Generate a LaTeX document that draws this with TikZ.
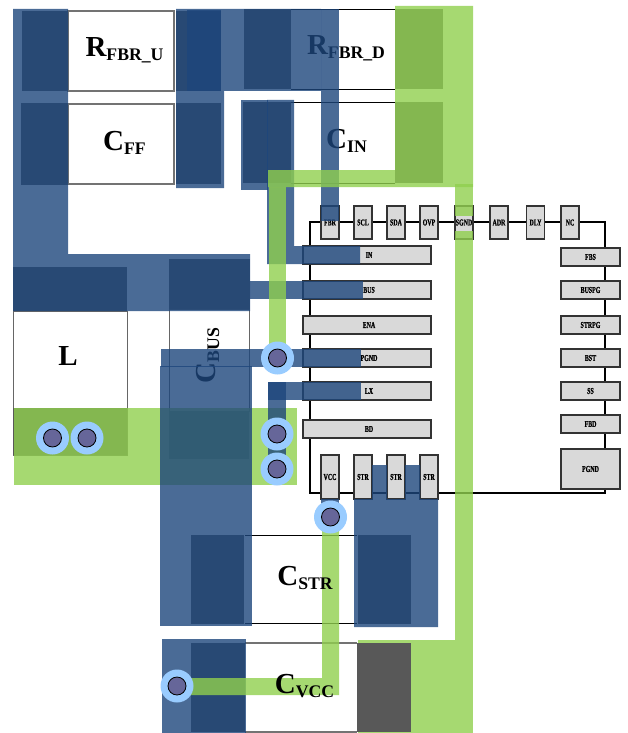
\documentclass[tikz,border=0pt]{standalone}
\usepackage{fontspec}
\setmainfont{Liberation Serif}
\newfontfamily\pinfont[FakeStretch=0.66,FakeBold=0.7]{Liberation Serif Bold}
\definecolor{coppercol}{HTML}{1D467C}
\definecolor{groundcol}{HTML}{90CF4E}
\definecolor{padcol}{HTML}{585858}
\definecolor{pincol}{HTML}{D9D9D9}
\definecolor{ringcol}{HTML}{99CCFF}
\definecolor{holecol}{HTML}{666699}
\newcommand{\refdes}[2]{#1{\fontsize{17.7}{18}\selectfont\raisebox{-4pt}{#2}}}
\tikzset{
  copperfill/.style={fill=coppercol,fill opacity=.8},
  groundfill/.style={fill=groundcol,fill opacity=.8},
  padgrey/.style={fill=padcol},
  partbox/.style={draw=black,line width=.7},
  greybox/.style={draw=black!55,line width=1.2},
  thinbox/.style={draw=black!60,line width=.8},
  partlabel/.style={anchor=base,inner sep=0,font=\bfseries\fontsize{29}{29}\selectfont},
  pinbase/.style={draw=black!80,fill=pincol,line width=1.2,inner sep=0,font=\pinfont\fontsize{9}{9}\selectfont},
  pinv/.style={pinbase,minimum width=18,minimum height=33},
  pinb/.style={pinbase,minimum width=18,minimum height=44},
  pinl/.style={pinbase,minimum width=128,minimum height=18},
  pinr/.style={pinbase,minimum width=59,minimum height=18},
  viaring/.style={circle,fill=ringcol,minimum size=33,inner sep=0},
  viahole/.style={circle,fill=holecol,draw=black,line width=.8,minimum size=18,inner sep=0}
}
\begin{document}
\begin{tikzpicture}[x={1pt},y={-1pt}]
\useasboundingbox (0,0) rectangle (627,733);
\draw[greybox](68,11) rectangle (174,91) (68,104) rectangle (174,184);
\draw[thinbox](169,309) rectangle (249,411) (13,311) rectangle (127,455);
\draw[greybox](245,643)--(357,643) (245,732)--(357,732);
\draw[partbox](291,9)--(395,9) (291,89)--(395,89) (291,102)--(395,102) (291,183)--(395,183) (245,535)--(357,535) (245,623)--(357,623);
\foreach \xa/\ya/\xb/\yb in {22/11/68/91,176/11/221/91,244/9/291/89,21/103/68/185,176/103/221/184,243/102/291/183,395/9/443/89,395/102/443/183,13/267/127/311,169/259/250/309,13/408/127/455,169/411/249/459,191/535/244/624,358/535/411/624,191/643/245/732}{\fill[padgrey](\xa,\ya) rectangle (\xb,\yb);}
\node[partlabel] (lblRU) at (124.5,57) {\refdes{R}{FBR\_U}};
\node[partlabel] (lblFF) at (124.5,150) {\refdes{C}{FF}};
\node[partlabel] (lblRD) at (346,55) {\refdes{R}{FBR\_D}};
\node[partlabel] (lblIN) at (346.5,148) {\refdes{C}{IN}};
\node[partlabel] (lblL) at (68,365) {L};
\node[partlabel,rotate=90] (lblBUS) at (215,355.5) {\refdes{C}{BUS}};
\draw[line width=1.2](310,222) rectangle (605,493);
\foreach \x/\pin in {330/FBR,363/SCL,396/SDA,429/OVP,464/SGND,499/ADR,535.5/DLY,570/NC}{\node[pinv] (top\pin) at (\x,222.5) {\pin};}
\foreach \y/\pin in {255/IN,290/BUS,325/ENA,358/PGND,391/LX,429/BD}{\node[pinl] (left\pin) at (367,\y) {\hspace*{4pt}\pin};}
\foreach \y/\pin in {257/FBS,290/BUSPG,325/STRPG,358/BST,391/SS,424/FBD}{\node[pinr] (right\pin) at (590.5,\y) {\pin};}
\node[pinr,minimum height=40] (rightGND) at (590.5,469) {PGND};
\foreach \x/\n/\pin in {330/a/VCC,363/b/STR,396/c/STR,429/d/STR}{\node[pinb] (bot\n) at (\x,477) {\pin};}
\fill[groundfill](14,408) rectangle (297,485);
\fill[copperfill](13,9)--(68,9)--(68,254)--(250,254)--(250,311)--(13,311)--cycle;
\fill[copperfill](176,9)--(321,9)--(321,91)--(224,91)--(224,188)--(176,188)--cycle;
\fill[copperfill](187,10) rectangle (221,91);
\fill[copperfill](320.5,9) rectangle (339,221);
\fill[copperfill](241,100) rectangle (267.5,190);
\fill[copperfill](267,100)--(294,100)--(294,246)--(360,246)--(360,264)--(267,264)--cycle;
\fill[copperfill](250,281) rectangle (363,299);
\fill[copperfill](161,349) rectangle (361,367);
\fill[copperfill](160,366) rectangle (252,626);
\fill[copperfill](268,382) rectangle (361,400);
\fill[copperfill](268,382) rectangle (286,478);
\fill[copperfill](321,499) rectangle (339,520);
\fill[copperfill](354,499)--(372,499)--(372,465)--(387,465)--(387,499)--(405,499)--(405,465)--(420,465)--(420,499)--(438,499)--(438,627)--(354,627)--cycle;
\fill[copperfill](162,639) rectangle (246,733);
\fill[groundfill](395,6)--(473,6)--(473,187)--(268,187)--(268,170)--(395,170)--cycle;
\fill[groundfill](269,187) rectangle (286,358);
\fill[groundfill](455,184) rectangle (473,216);
\fill[groundfill](455,231) rectangle (473,640);
\fill[groundfill](358,640) rectangle (473,733);
\fill[groundfill](322,517)--(339,517)--(339,695)--(177,695)--(177,678)--(322,678)--cycle;
\fill[padcol](357,643) rectangle (411,732);
\node[partlabel] (lblSTR) at (305,585) {\refdes{C}{STR}};
\node[partlabel] (lblVCC) at (304.5,693) {\refdes{C}{VCC}};
\foreach \x/\y/\n in {52.5/438/a,87/438/b,277.5/358/c,277/434/d,277/469/e,330.5/517/f,177/686/g}{\node[viaring] (ring\n) at (\x,\y) {};\node[viahole] (via\n) at (\x,\y) {};}
\end{tikzpicture}
\end{document}
